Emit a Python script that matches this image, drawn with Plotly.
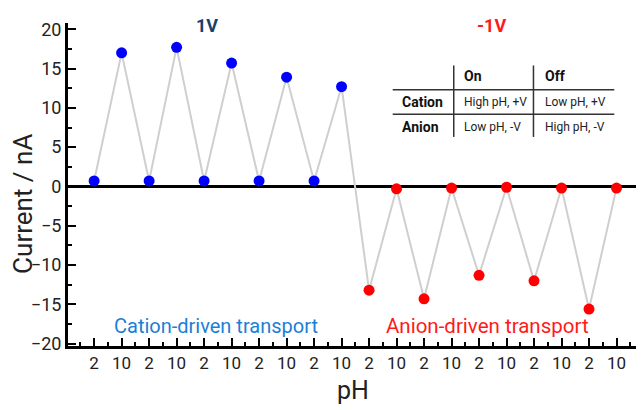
import plotly.graph_objects as go

ph_labels = ["2", "10"] * 10
current = [0.7, 17.0, 0.7, 17.7, 0.7, 15.7, 0.7, 13.9, 0.7, 12.7,
           -13.2, -0.3, -14.3, -0.2, -11.3, -0.1, -12.0, -0.2, -15.6, -0.2]
point_colors = ["#0000ff"] * 10 + ["#ff0000"] * 10

table_header = ["On", "Off"]
table_rows = ["Cation", "Anion"]
table_cells = [["High pH, +V", "Low pH, +V"], ["Low pH, -V", "High pH, -V"]]

idx = list(range(len(current)))
FONT = "Roboto"

fig = go.Figure()
fig.add_trace(go.Scatter(x=idx, y=current, mode="lines",
                         line=dict(color="#cfcfcf", width=2), hoverinfo="skip",
                         showlegend=False))
fig.add_trace(go.Scatter(x=idx, y=current, mode="markers",
                         marker=dict(color=point_colors, size=11, line=dict(width=0)),
                         showlegend=False, cliponaxis=False))

# table lines
lc = "#333333"
for yv in [12.3, 9.2]:
    fig.add_shape(type="line", x0=10.86, x1=18.92, y0=yv, y1=yv, line=dict(color=lc, width=1.5))
for xv in [13.08, 15.98]:
    fig.add_shape(type="line", x0=xv, x1=xv, y0=6.3, y1=15.4, line=dict(color=lc, width=1.5))

col_x = [13.37, 16.31]
row_y = [10.8, 7.6]
for j, h in enumerate(table_header):
    fig.add_annotation(x=col_x[j], y=14.0, text="<b>%s</b>" % h, showarrow=False,
                       xanchor="left", yanchor="middle", font=dict(family=FONT, size=14, color="#111"))
for i, r in enumerate(table_rows):
    fig.add_annotation(x=11.12, y=row_y[i], text="<b>%s</b>" % r, showarrow=False,
                       xanchor="left", yanchor="middle", font=dict(family=FONT, size=14, color="#111"))
    for j in range(2):
        fig.add_annotation(x=col_x[j], y=row_y[i], text=table_cells[i][j], showarrow=False,
                           xanchor="left", yanchor="middle", font=dict(family=FONT, size=12, color="#222"))

fig.add_annotation(x=4.1, y=20.5, text="<b>1V</b>", showarrow=False,
                   font=dict(family=FONT, size=18, color="#1b3f6b"))
fig.add_annotation(x=14.46, y=20.5, text="<b>-1V</b>", showarrow=False,
                   font=dict(family=FONT, size=18, color="#ff1a1a"))
fig.add_annotation(x=4.43, y=-17.75, text="Cation-driven transport", showarrow=False,
                   font=dict(family=FONT, size=20, color="#1a7fd6"))
fig.add_annotation(x=14.31, y=-17.75, text="Anion-driven transport", showarrow=False,
                   font=dict(family=FONT, size=20.5, color="#ff1a1a"))

# axis titles
fig.add_annotation(xref="paper", yref="paper", x=0, y=0.44, xshift=-45, text="Current / nA",
                   textangle=-90, showarrow=False, xanchor="center", yanchor="middle",
                   font=dict(family=FONT, size=26, color="#222"))
fig.add_annotation(xref="paper", yref="paper", x=0.495, y=0, yshift=-44, text="pH",
                   showarrow=False, xanchor="center", yanchor="middle",
                   font=dict(family=FONT, size=25, color="#222"))

# page body has an 8px default margin: shrink figure and shift margins to compensate
fig.update_layout(
    width=636, height=402,
    margin=dict(l=60, r=0, t=15, b=64),
    paper_bgcolor="white", plot_bgcolor="white",
    font=dict(family=FONT, color="#222"),
)
fig.update_xaxes(range=[-0.95, 20.0], tickmode="array", tickvals=idx, ticktext=ph_labels,
                 ticks="inside", ticklen=8, tickwidth=2, tickcolor="black",
                 minor=dict(dtick=0.5, tick0=-0.5, ticks="inside", ticklen=4, tickwidth=2, tickcolor="black"),
                 showline=True, linecolor="black", linewidth=3, showgrid=False, zeroline=False,
                 tickfont=dict(size=17, color="#222"), automargin=False)
fig.update_yaxes(range=[-20.3, 20.8], tickvals=[-20, -15, -10, -5, 0, 5, 10, 15, 20],
                 ticks="inside", ticklen=8, tickwidth=2, tickcolor="black",
                 minor=dict(dtick=2.5, ticks="inside", ticklen=4, tickwidth=2, tickcolor="black"),
                 showline=True, linecolor="black", linewidth=3, showgrid=False,
                 zeroline=True, zerolinecolor="black", zerolinewidth=2.5,
                 tickfont=dict(size=18, color="#222"), automargin=False)

fig.write_html("out.html")
